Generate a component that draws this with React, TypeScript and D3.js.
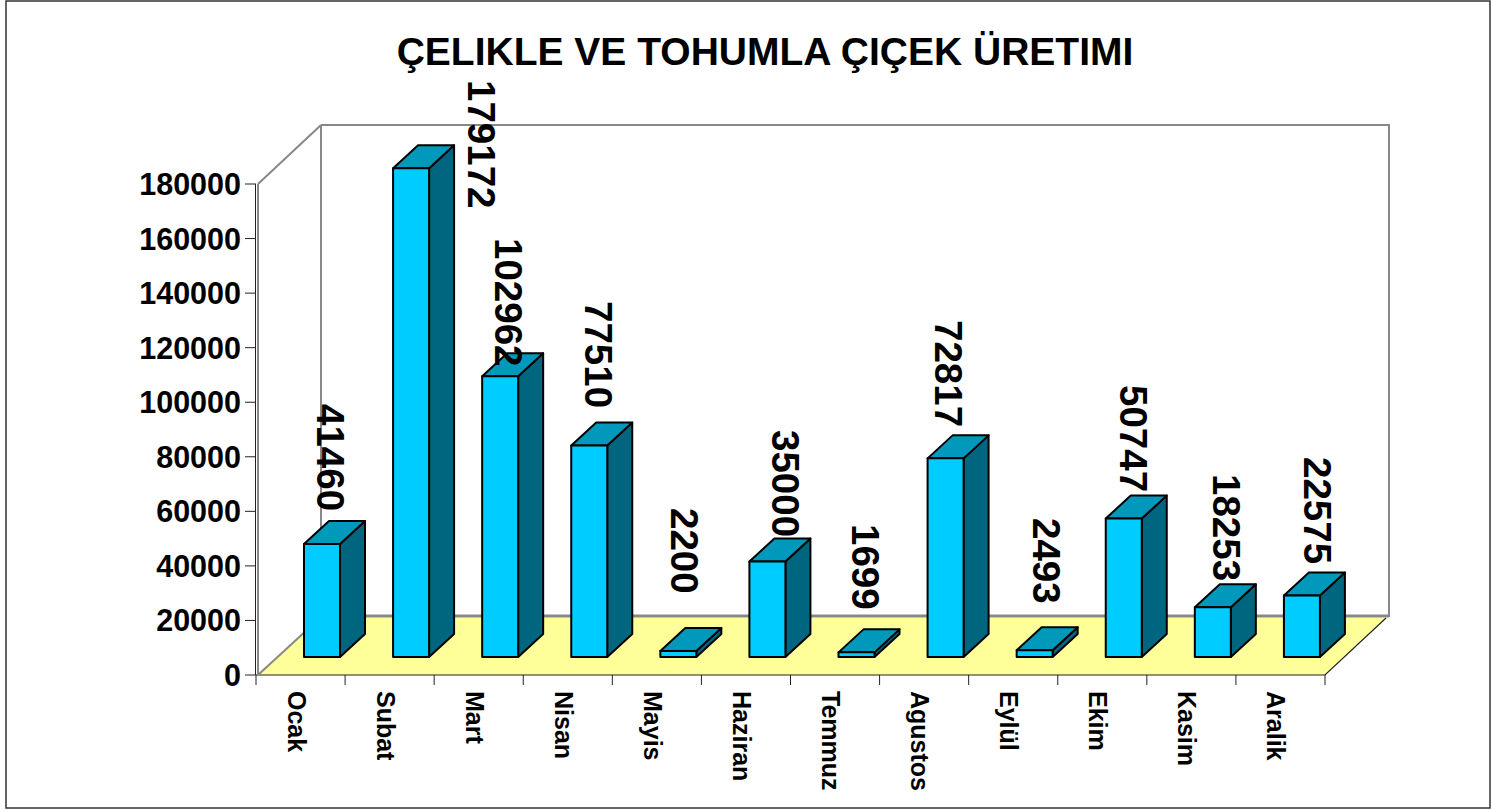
import React from "react";
import * as d3 from "d3";

const categories = ["Ocak","Subat","Mart","Nisan","Mayis","Haziran","Temmuz","Agustos","Eylül","Ekim","Kasim","Aralik"];
const values = [41460,179172,102962,77510,2200,35000,1699,72817,2493,50747,18253,22575];
const yTicks = [0,20000,40000,60000,80000,100000,120000,140000,160000,180000];
const titleText = "ÇELIKLE VE TOHUMLA ÇIÇEK ÜRETIMI";

// label placement: x centre, top y of the rotated label (layout only)
const labelX = [330,481,508,598,684,785,865,948,1046,1133,1226,1317];
const labelTop = [404,80,238,301,508,430,524,320,518,385,474,457];

const FONT = "'Liberation Sans', Arial, sans-serif";
const DX = 25, DY = -23;
const floorY = 675, backY = 617, topY = 125;
const x0 = 256, x1 = 1325;

export default function App() {
  const y = d3.scaleLinear().domain([0, 180000]).range([675, 184]);
  const x = d3.scaleBand<string>().domain(categories).range([x0, x1]).paddingInner(0);
  const baseShift = 18;
  const bw = 36;
  const bandW = x.bandwidth();
  const wallR = x1 + 64;
  return (
    <svg width={1491} height={811} style={{ position: "absolute", left: 0, top: 0, background: "#fff" }} fontFamily={FONT}>
      <rect x={6} y={1} width={1484} height={807} fill="none" stroke="#333" strokeWidth={1.5} />
      <text x={765} y={65} fontSize={39} fontWeight="bold" textAnchor="middle">{titleText}</text>

      {/* floor */}
      <path d={`M${x0},${floorY}L321,${backY + 1}H${wallR - 3}L${x1},${floorY}Z`} fill="#ffff99" />
      <path d={`M${x0},${floorY}H${x1}L${wallR - 3},${backY + 1}`} fill="none" stroke="#222" strokeWidth={1.2} />

      {/* walls */}
      <path d={`M321,${topY}H${wallR}V${backY}`} fill="none" stroke="#888" strokeWidth={2} />
      <path d={`M321,${topY}V${backY}`} fill="none" stroke="#888" strokeWidth={2} />
      <path d={`M258,184L321,${topY}`} fill="none" stroke="#888" strokeWidth={2} />
      <path d={`M258,184V${floorY}`} fill="none" stroke="#888" strokeWidth={2} />
      <path d={`M321,${backY - 1}H${wallR}`} fill="none" stroke="#888" strokeWidth={3} />
      <path d={`M258,${floorY}L321,${backY}`} fill="none" stroke="#888" strokeWidth={2} />

      {/* y axis */}
      <path d={`M255.5,184V${floorY}`} stroke="#222" strokeWidth={1} fill="none" />
      {yTicks.map((t) => (
        <g key={t}>
          <line x1={245} x2={256} y1={y(t)} y2={y(t)} stroke="#222" strokeWidth={1} />
          <text x={241} y={y(t) + 11} textAnchor="end" fontSize={30.5} fontWeight="bold">{t}</text>
        </g>
      ))}

      {/* x axis */}
      {[...categories.map((c) => x(c) as number), x1].map((p, i) => (
        <line key={i} x1={p} x2={p} y1={floorY} y2={floorY + 10} stroke="#222" strokeWidth={1} />
      ))}
      {categories.map((c) => {
        const cx = (x(c) as number) + bandW / 2 - 13;
        return (
          <text key={c} transform={`translate(${cx},691) rotate(90)`} fontSize={25} fontWeight="bold">{c}</text>
        );
      })}

      {/* bars */}
      {categories.map((c, i) => {
        const l = (x(c) as number) + 48;
        const r = l + bw;
        const b = y(0) - baseShift;
        const t = y(values[i]) - baseShift;
        return (
          <g key={c} stroke="#000" strokeWidth={2} strokeLinejoin="round">
            <path d={`M${r},${b}L${r + DX},${b + DY}V${t + DY}L${r},${t}Z`} fill="#006680" />
            <path d={`M${l},${t}L${l + DX},${t + DY}H${r + DX}L${r},${t}Z`} fill="#0099bb" />
            <rect x={l} y={t} width={bw} height={b - t} fill="#00ccff" />
          </g>
        );
      })}

      {/* value labels */}
      {values.map((v, i) => (
        <text key={i} transform={`translate(${labelX[i] - 13},${labelTop[i]}) rotate(90)`} fontSize={38.5} fontWeight="bold" fill="#000">{v}</text>
      ))}
    </svg>
  );
}
